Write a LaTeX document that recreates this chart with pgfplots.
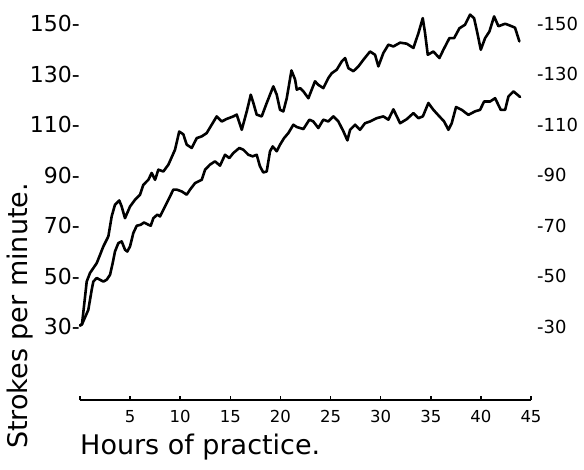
\documentclass[border=0pt]{standalone}
\usepackage{fontspec}
\setmainfont{DejaVu Sans}
\usepackage{pgfplots}
\pgfplotsset{compat=1.18}

\begin{document}
\begin{tikzpicture}
  \pgfplotsset{
    common/.style={
      scale only axis,
      width=451bp, height=388.9bp,
      xmin=0, xmax=45, ymin=1, ymax=155,
      enlargelimits=false,
      clip=false,
      ytick={30,50,70,90,110,130,150},
      ytick style={draw=none},
      y axis line style={draw=none},
    },
  }
  % left axis with the curves
  \begin{axis}[
      common,
      axis x line*=bottom,
      axis y line*=left,
      x axis line style={line width=2bp, black},
      xtick={0,5,...,45},
      xticklabels={,5,10,15,20,25,30,35,40,45},
      tick align=inside,
      major tick length=4bp,
      xtick style={line width=1.5bp, black},
      xticklabel style={font=\fontsize{16.5bp}{18bp}\selectfont, inner sep=0pt, anchor=north, yshift=-10bp},
      yticklabels={30-,50-,70-,90-,110-,130-,150-},
      yticklabel style={font=\fontsize{22bp}{24bp}\selectfont, inner sep=0pt, anchor=east},
      xlabel={Hours of practice.},
      xlabel style={at={(axis description cs:0,-0.087)}, anchor=north west, inner sep=0pt,
        font=\fontsize{27bp}{30bp}\selectfont},
      ylabel={Strokes per minute.},
      ylabel style={at={(axis description cs:-0.133,0.216)}, anchor=center, inner sep=0pt,
        font=\fontsize{27bp}{30bp}\selectfont},
    ]
    % upper curve
    \addplot[black, line width=2.6bp, line join=round, line cap=round] coordinates {
      (0,30.5) (0.2,31) (0.67,47.9) (1.0,51.3) (1.67,55.2) (2.33,61.8) (2.83,65.8)
      (3.16,73.7) (3.49,78.3) (3.92,80.0) (4.16,77.6) (4.49,73.0) (4.99,77.6)
      (5.49,80.3) (5.99,82.3) (6.32,86.2) (6.82,88.2) (7.15,90.9) (7.49,88.2)
      (7.82,92.2) (8.32,91.5) (8.82,94.2) (9.48,100.1) (9.9,107.3) (10.31,106.2)
      (10.65,102.1) (11.15,100.8) (11.65,104.7) (12.15,105.4) (12.64,106.7)
      (13.14,110.0) (13.64,113.3) (14.14,111.3) (14.64,112.3) (15.30,113.3)
      (15.64,114.0) (15.97,110.0) (16.14,108.0) (16.64,115.3) (17.04,121.9)
      (17.30,118.6) (17.63,114.0) (18.13,113.3) (18.63,118.6) (19.29,125.2)
      (19.63,121.9) (19.96,115.9) (20.29,115.3) (20.63,120.5) (21.1,131.5)
      (21.46,127.9) (21.63,123.9) (21.96,124.5) (22.29,123.2) (22.79,120.5)
      (23.12,123.9) (23.45,127.2) (23.78,125.8) (24.28,124.5) (24.78,128.5)
      (25.12,130.4) (25.62,131.8) (26.12,135.1) (26.45,136.4) (26.78,132.4)
      (27.28,131.2) (27.78,133.1) (28.27,135.7) (28.94,139.0) (29.44,137.7)
      (29.77,133.1) (30.27,138.4) (30.77,141.7) (31.27,141.0) (31.94,142.5)
      (32.6,142.1) (33.27,140.4) (33.77,146.3) (34.2,152.2) (34.43,146.3)
      (34.7,137.7) (35.26,139.0) (35.86,136.4) (36.26,139.7) (36.86,144.3)
      (37.33,144.3) (37.86,148.2) (38.42,149.6) (38.92,153.6) (39.32,152.2)
      (39.65,146.3) (39.99,139.7) (40.42,144.3) (40.85,146.9) (41.32,152.9)
      (41.75,149.0) (42.42,150.0) (43.08,149.0) (43.41,148.4) (43.84,143.0)
    };
    % lower curve
    \addplot[black, line width=2.6bp, line join=round, line cap=round] coordinates {
      (0,30.5) (0.2,31) (0.83,36.7) (1.17,44.7) (1.33,47.9) (1.67,49.3) (2.0,48.6)
      (2.33,47.9) (2.66,48.6) (3.0,50.6) (3.26,55.2) (3.49,59.8) (3.82,63.1)
      (4.16,63.8) (4.49,60.5) (4.72,59.8) (4.99,61.8) (5.32,67.1) (5.66,70.0)
      (6.06,70.4) (6.39,71.3) (6.82,70.4) (7.06,70.0) (7.32,73.0) (7.72,74.4)
      (7.98,73.7) (8.48,77.6) (8.98,81.6) (9.31,84.3) (9.65,84.3) (10.15,83.6)
      (10.65,82.3) (10.98,84.3) (11.48,86.9) (12.15,88.2) (12.48,92.2)
      (12.97,94.2) (13.47,95.5) (13.97,93.8) (14.47,98.1) (14.90,96.8)
      (15.30,98.8) (15.90,100.8) (16.30,100.1) (16.80,98.1) (17.23,97.5)
      (17.63,98.1) (17.96,93.5) (18.29,91.1) (18.63,91.5) (18.96,99.5)
      (19.23,101.4) (19.63,99.5) (19.96,102.1) (20.36,104.7) (20.79,106.7)
      (21.29,110.0) (21.63,109.1) (22.29,108.3) (22.89,112.0) (23.28,111.3)
      (23.78,108.7) (24.28,112.0) (24.78,111.3) (25.28,113.3) (25.78,111.3)
      (26.28,107.4) (26.68,103.8) (26.95,108.0) (27.45,110.0) (27.94,108.0)
      (28.44,110.6) (28.94,111.3) (29.61,112.6) (30.27,113.3) (30.77,112.0)
      (31.27,116.1) (31.54,113.9) (31.94,110.6) (32.6,112.2) (33.27,114.6)
      (33.77,112.6) (34.21,113.3) (34.76,118.6) (35.26,115.9) (35.86,113.3)
      (36.33,111.3) (36.76,108.0) (37.09,110.6) (37.52,117.0) (38.09,115.9)
      (38.75,113.9) (39.42,115.3) (39.92,115.9) (40.32,119.2) (40.92,119.2)
      (41.42,120.5) (41.98,115.9) (42.42,115.9) (42.75,121.2) (43.25,123.2)
      (43.91,121.0)
    };
  \end{axis}
  % right-hand tick labels
  \begin{axis}[
      common,
      axis x line=none,
      axis y line*=right,
      yticklabels={-30,-50,-70,-90,-110,-130,-150},
      yticklabel style={font=\fontsize{18bp}{20bp}\selectfont, inner sep=0pt, anchor=west, xshift=6bp},
    ]
  \end{axis}
  \pgfresetboundingbox
  \path[use as bounding box] (-80bp,-70bp) rectangle (504bp,400bp);
\end{tikzpicture}
\end{document}
